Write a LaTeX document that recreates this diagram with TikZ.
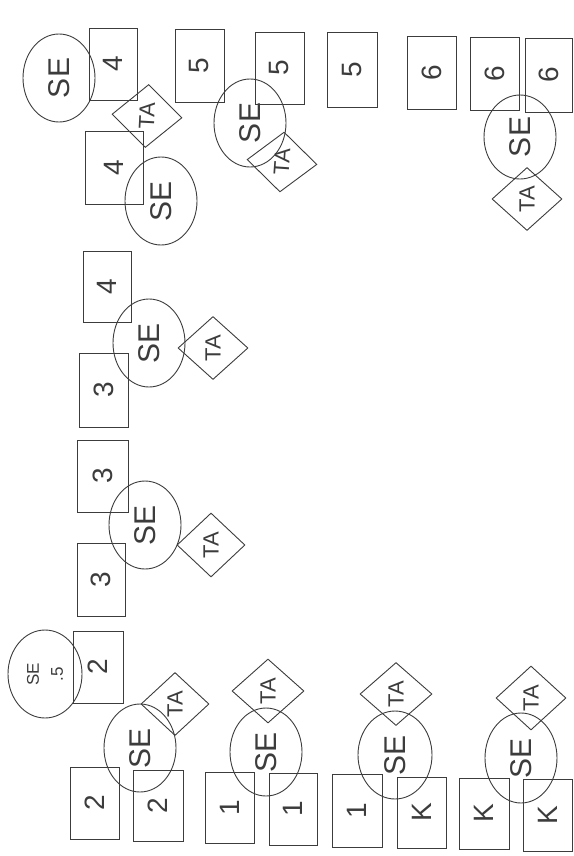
\documentclass[tikz,border=0pt]{standalone}
\usepackage{fontspec}
\setmainfont{Liberation Sans}
\usetikzlibrary{shapes.geometric}
\definecolor{ink}{HTML}{3C3C3C}
\tikzset{
  box/.style 2 args={rectangle, rotate=90, inner sep=0pt, minimum width=#2pt, minimum height=#1pt, font=\fontsize{28}{30}\selectfont},
  ell/.style={ellipse, rotate=90, inner sep=0pt, minimum width=88pt, minimum height=72pt, font=\fontsize{30}{32}\selectfont},
  dia/.style={diamond, rotate=90, inner sep=0pt, minimum width=63pt, minimum height=70pt, font=\fontsize{22}{24}\selectfont}}
\begin{document}
\begin{tikzpicture}[x=1pt,y=-1pt, line width=0.9pt,
  every node/.style={draw=ink, text=ink}]
\useasboundingbox (0,0) rectangle (573,856);
% rectangles
\node[box={48}{72}] (r4a) at (113,64) {4};
\node[box={58}{73}] (r4b) at (114,167.5) {4};
\node[box={48}{71}] (r4c) at (107,286.5) {4};
\node[box={49}{74}] (r3a) at (103.5,390) {3};
\node[box={51}{72}] (r3b) at (102.5,476) {3};
\node[box={48}{73}] (r3c) at (101,579.5) {3};
\node[box={50}{72}] (r2a) at (98,667) {2};
\node[box={49}{72}] (r2b) at (94.5,803) {2};
\node[box={50}{71}] (r2c) at (158,805.5) {2};
\node[box={49}{71}] (r1a) at (229.5,807.5) {1};
\node[box={48}{72}] (r1b) at (293,809) {1};
\node[box={50}{73}] (r1c) at (357,810.5) {1};
\node[box={49}{71}] (rka) at (421.5,812.5) {K};
\node[box={50}{71}] (rkb) at (484,813.5) {K};
\node[box={49}{72}] (rkc) at (547.5,815) {K};
\node[box={49}{73}] (r5a) at (199.5,65.5) {5};
\node[box={49}{72}] (r5b) at (279.5,68) {5};
\node[box={50}{75}] (r5c) at (352,69.5) {5};
\node[box={49}{73}] (r6a) at (431.5,72.5) {6};
\node[box={49}{73}] (r6b) at (494.5,73.5) {6};
\node[box={47}{74}] (r6c) at (548.5,75) {6};
% ellipses
\node[ell] (e1) at (59,78) {SE};
\node[ell] (e2) at (161,201) {SE};
\node[ell] (e3) at (250,123) {SE};
\node[ell, minimum width=84pt] (e4) at (520,137) {SE};
\node[ell] (e5) at (149,343) {SE};
\node[ell] (e6) at (145,525) {SE};
\node[ell, minimum height=74pt, align=center, font=\fontsize{17}{24}\selectfont] (e7) at (45,674) {SE\\.5};
\node[ell] (e8) at (140,748) {SE};
\node[ell] (e9) at (266,752) {SE};
\node[ell, minimum height=74pt] (e10) at (395,755) {SE};
\node[ell, minimum width=90pt] (e11) at (521,758) {SE};
% diamonds
\node[dia, rotate=-3] (d1) at (147,116) {TA};
\node[dia, rotate=-4, minimum width=60pt] (d2) at (282,162) {TA};
\node[dia] (d3) at (527,199) {TA};
\node[dia] (d4) at (213,348) {TA};
\node[dia, minimum width=64pt, minimum height=68pt] (d5) at (211,545) {TA};
\node[dia, minimum height=68pt] (d6) at (175,704) {TA};
\node[dia, minimum width=64pt, minimum height=72pt] (d7) at (268,691) {TA};
\node[dia, minimum height=72pt] (d8) at (396,694) {TA};
\node[dia, minimum width=64pt] (d9) at (531,698) {TA};
\end{tikzpicture}
\end{document}
